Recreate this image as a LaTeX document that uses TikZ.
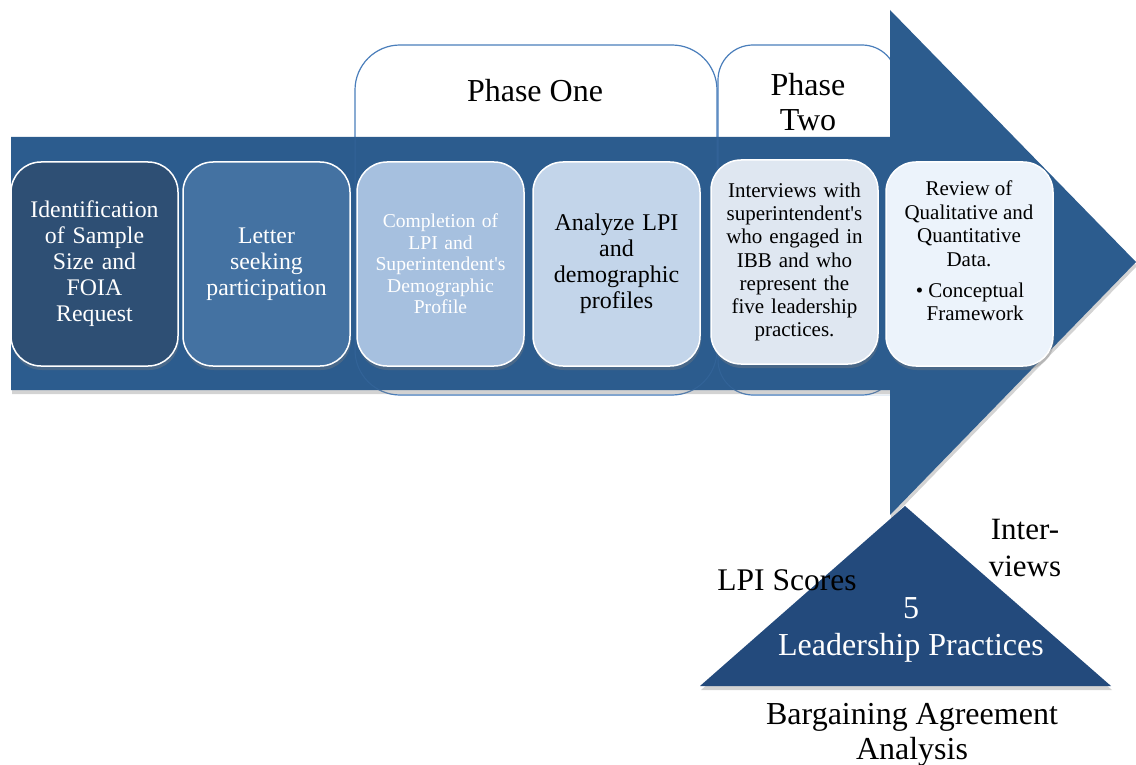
\documentclass[tikz,border=0pt]{standalone}
\usepackage{fontspec}
\setmainfont{Liberation Serif}
\usetikzlibrary{shadows}
\definecolor{arrowblue}{HTML}{2C5C8E}
\definecolor{cA}{HTML}{2E4F74}
\definecolor{cB}{HTML}{4472A2}
\definecolor{cC}{HTML}{A6C0DF}
\definecolor{cD}{HTML}{C3D5EA}
\definecolor{cE}{HTML}{DFE7F1}
\definecolor{cF}{HTML}{ECF3FB}
\definecolor{triblue}{HTML}{234A7C}
\definecolor{phaseline}{HTML}{4A7EBB}
\newcommand{\apo}{\textquotesingle}
\tikzset{
  shad/.style={drop shadow={opacity=0.35,shadow xshift=1pt,shadow yshift=-4pt}},
  stepbox/.style={draw=white, line width=1.5pt, rounded corners=30pt,
    minimum width=167pt, minimum height=204pt, text width=160pt, align=center,
    inner sep=0pt, shad},
  phasebox/.style={draw=phaseline, line width=1.2pt, fill=white},
  phaseghost/.style={draw=phaseline, line width=1pt, opacity=0.22},
  phasetext/.style={font=\fontsize{32}{35}\selectfont, align=center},
  lbl/.style={font=\fontsize{31.5}{37}\selectfont, align=center}
}
\begin{document}
\begin{tikzpicture}[x=1pt,y=-1pt]
\useasboundingbox (0,0) rectangle (1136,765);
% phase boxes behind arrow
\draw[phasebox, rounded corners=45pt] (355,395) -- (355,45) -- (717,45) -- (717,395) -- cycle;
\draw[phasebox, rounded corners=35pt] (718,395) -- (718,45) -- (897,45) -- (897,395) -- cycle;
% big arrow
\fill[arrowblue, shad] (11,137) -- (890,137) -- (890,10) -- (1136,262) -- (890,515) -- (890,390) -- (11,390) -- cycle;
% faint phase outlines over arrow
\draw[phaseghost, rounded corners=45pt] (355,137) -- (355,395) -- (717,395) -- (717,137);
\draw[phaseghost, rounded corners=35pt] (718,137) -- (718,395) -- (890,395);
% phase titles
\node[phasetext] (p1) at (535,91) {Phase One};
\node[phasetext] (p2) at (808,102) {Phase\\Two};
% step boxes
\node[stepbox, fill=cA, text=white, font=\fontsize{23.8}{26}\selectfont] (b1) at (94.5,264)
  {Identification\\of Sample\\Size and\\FOIA\\Request};
\node[stepbox, fill=cB, text=white, font=\fontsize{23.8}{26}\selectfont] (b2) at (266.5,264)
  {Letter\\seeking\\participation};
\node[stepbox, fill=cC, text=white, font=\fontsize{19.6}{21.5}\selectfont] (b3) at (440.5,264)
  {Completion of\\LPI and\\Superintendent\apo s\\Demographic\\Profile};
\node[stepbox, fill=cD, text=black, font=\fontsize{24}{26}\selectfont] (b4) at (616.5,264)
  {Analyze LPI\\and\\demographic\\profiles};
\node[stepbox, fill=cE, text=black, font=\fontsize{21}{23.2}\selectfont] (b5) at (794.5,262)
  {Interviews with\\superintendent\apo s\\who engaged in\\IBB and who\\represent the\\five leadership\\practices.};
\node[stepbox, fill=cF] (b6) at (969.5,264) {};
\node[font=\fontsize{21}{23.5}\selectfont, align=center] (t6) at (969,224)
  {Review of\\Qualitative and\\Quantitative\\Data.};
\node[font=\fontsize{21}{23.5}\selectfont, align=left] (t6b) at (970,302)
  {\textbullet\ Conceptual\\\phantom{\textbullet}\,Framework};
% triangle
\fill[triblue, shad] (905,506) -- (1111,686) -- (700,686) -- cycle;
\node[lbl] (lpi) at (787,580) {LPI Scores};
\node[lbl, font=\fontsize{31}{37}\selectfont] (int) at (1025,548) {Inter-\\views};
\node[lbl, text=white, font=\fontsize{32}{37}\selectfont] (lp) at (911,630) {5\\Leadership Practices};
\node[lbl, font=\fontsize{32}{35}\selectfont] (ba) at (912,735) {Bargaining Agreement\\Analysis};
\end{tikzpicture}
\end{document}
